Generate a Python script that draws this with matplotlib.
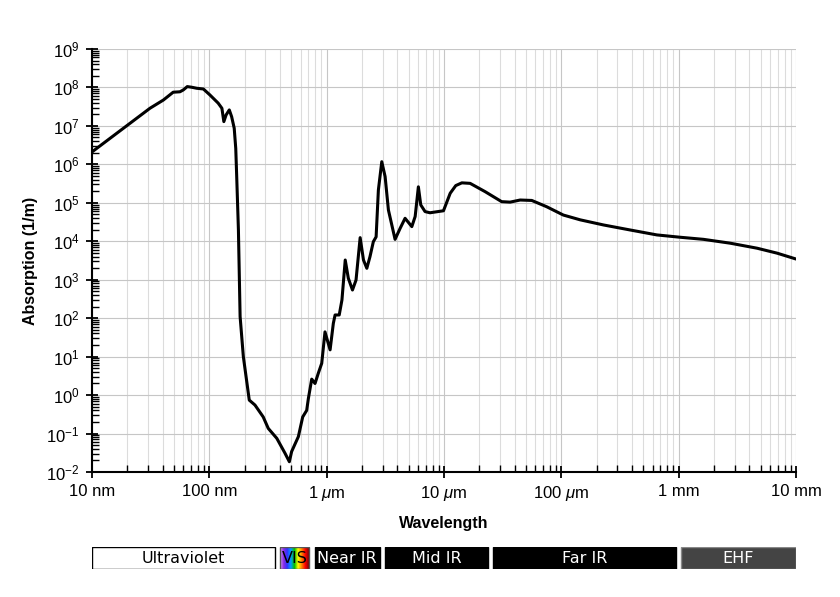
import matplotlib
matplotlib.use("Agg")
import matplotlib.pyplot as plt
import numpy as np
from matplotlib.colors import LinearSegmentedColormap
from matplotlib.ticker import FixedLocator, LogLocator, NullFormatter

plt.rcParams['font.family'] = ['Liberation Sans', 'DejaVu Sans']
plt.rcParams['mathtext.fontset'] = 'custom'
plt.rcParams['mathtext.rm'] = 'Liberation Sans'
plt.rcParams['mathtext.it'] = 'Liberation Sans:italic'

# wavelength in metres, absorption coefficient in 1/m
wavelength = np.array([
    10e-9, 31.2e-9, 40.6e-9, 49.2e-9, 56.2e-9, 60e-9, 64.9e-9, 70.8e-9,
    78.2e-9, 89e-9, 101e-9, 119e-9, 128e-9, 133e-9, 139e-9, 148e-9, 155e-9,
    163e-9, 168e-9, 171e-9, 177e-9, 183e-9, 195e-9, 219e-9, 245e-9, 288e-9,
    318e-9, 376e-9, 441e-9, 481e-9, 503e-9, 574e-9, 625e-9, 676e-9, 698e-9,
    746e-9, 796e-9, 849e-9, 908e-9, 968e-9, 1.07e-6, 1.14e-6, 1.18e-6,
    1.28e-6, 1.35e-6, 1.44e-6, 1.53e-6, 1.66e-6, 1.78e-6, 1.93e-6, 2.06e-6,
    2.2e-6, 2.34e-6, 2.5e-6, 2.64e-6, 2.76e-6, 2.95e-6, 3.15e-6, 3.36e-6,
    3.83e-6, 4.23e-6, 4.66e-6, 5.32e-6, 5.68e-6, 6.05e-6, 6.34e-6, 6.9e-6,
    7.6e-6, 9.9e-6, 11.3e-6, 12.6e-6, 14.2e-6, 16.7e-6, 22.4e-6, 31e-6,
    36.6e-6, 44.6e-6, 56e-6, 75e-6, 104e-6, 145e-6, 229e-6, 387e-6, 652e-6,
    1.03e-3, 1.63e-3, 2.75e-3, 4.65e-3, 6.9e-3, 10e-3])
absorption = np.array([
    2.1e6, 2.87e7, 4.7e7, 7.5e7, 7.7e7, 8.6e7, 1.05e8, 1.01e8,
    9.5e7, 9.1e7, 6.4e7, 3.9e7, 2.87e7, 1.29e7, 1.92e7, 2.6e7, 1.73e7,
    8.7e6, 2.6e6, 5.3e5, 2e4, 1.1e2, 10, 0.74, 0.55, 0.27,
    0.136, 0.075, 0.031, 0.0185, 0.034, 0.083, 0.27, 0.4, 0.8,
    2.6, 2.0, 3.7, 6.7, 44, 15, 73, 121,
    121, 297, 3250, 1090, 540, 980, 1.24e4, 3250,
    1980, 3960, 9730, 1.3e4, 2.15e5, 1.17e6, 4.8e5, 6.5e4,
    1.12e4, 2.17e4, 3.95e4, 2.4e4, 4.4e4, 2.6e5, 8.8e4, 5.9e4,
    5.5e4, 6.2e4, 1.77e5, 2.8e5, 3.3e5, 3.2e5, 1.95e5, 1.07e5,
    1.04e5, 1.18e5, 1.15e5, 7.9e4, 4.8e4, 3.6e4, 2.65e4, 1.96e4, 1.46e4,
    1.27e4, 1.12e4, 8.9e3, 6.6e3, 4.9e3, 3.45e3])

x_ticks = [1e-8, 1e-7, 1e-6, 1e-5, 1e-4, 1e-3, 1e-2]
x_labels = ['10 nm', '100 nm', r'1 $\mu$m', r'10 $\mu$m', r'100 $\mu$m', '1 mm', '10 mm']
y_ticks = [10.0 ** k for k in range(-2, 10)]
y_labels = [r'$10^{%d}$' % k for k in range(-2, 10)]

bands = ['Ultraviolet', 'VIS', 'Near IR', 'Mid IR', 'Far IR', 'EHF']
band_edges = [10e-9, 380e-9, 750e-9, 3e-6, 25e-6, 1e-3, 10e-3]
band_face = ['white', None, 'black', 'black', 'black', '#444444']
band_edge = ['black', '#555555', 'black', 'black', 'black', '#888888']
band_text = ['black', 'black', 'white', 'white', 'white', 'white']

fig = plt.figure(figsize=(8.4, 5.97), dpi=100)
ax = fig.add_axes([0.1095, 0.2094, 0.8381, 0.7086])

ax.grid(True, which='major', color='#c6c6c6', linewidth=0.8)
ax.grid(True, which='minor', axis='x', color='#dcdcdc', linewidth=0.8)
ax.set_axisbelow(True)
ax.loglog(wavelength, absorption, color='black', linewidth=2.2,
          solid_joinstyle='round', solid_capstyle='round')

ax.set_xlim(1e-8, 1e-2)
ax.set_ylim(1e-2, 1e9)
ax.xaxis.set_major_locator(FixedLocator(x_ticks))
ax.set_xticklabels(x_labels, fontsize=12)
ax.yaxis.set_major_locator(FixedLocator(y_ticks))
ax.set_yticklabels(y_labels, fontsize=12)
ax.xaxis.set_minor_locator(LogLocator(base=10, subs=np.arange(2, 10), numticks=20))
ax.yaxis.set_minor_locator(LogLocator(base=10, subs=np.arange(2, 10), numticks=20))
ax.xaxis.set_minor_formatter(NullFormatter())
ax.yaxis.set_minor_formatter(NullFormatter())
ax.tick_params(which='major', direction='inout', length=8, width=1.3, pad=5)
ax.tick_params(which='minor', direction='in', length=5, width=1)
for side in ['top', 'right']:
    ax.spines[side].set_visible(False)
for side in ['left', 'bottom']:
    ax.spines[side].set_linewidth(1.5)

ax.set_xlabel('Wavelength', fontsize=11.5, fontweight='bold', labelpad=9)
ax.set_ylabel('Absorption (1/m)', fontsize=11.5, fontweight='bold', labelpad=6)

# spectrum band under the chart
bx = fig.add_axes([0.1095, 0.0469, 0.8381, 0.0369])
bx.set_xscale('log')
bx.set_xlim(1e-8, 1e-2)
bx.set_ylim(0, 1)
bx.axis('off')
gap = 0.022
rainbow = LinearSegmentedColormap.from_list(
    'vis', ['#d9a0ff', '#8a2be2', '#3030ff', '#00a0ff', '#00c000',
            '#ffff00', '#ff8000', '#ff0000', '#7a0000'])
for i, name in enumerate(bands):
    lo = np.log10(band_edges[i]) + (gap if i > 0 else 0.004)
    hi = np.log10(band_edges[i + 1]) - (gap if i < len(bands) - 1 else 0.004)
    x0, x1 = 10 ** lo, 10 ** hi
    if band_face[i] is None:
        xs = np.logspace(lo, hi, 60)
        bx.pcolormesh(xs, [0, 1], np.linspace(0, 1, 59)[None, :],
                      cmap=rainbow, shading='flat')
        bx.add_patch(plt.Rectangle((x0, 0), x1 - x0, 1, fill=False,
                                   edgecolor=band_edge[i], linewidth=1))
    else:
        bx.add_patch(plt.Rectangle((x0, 0), x1 - x0, 1,
                                   facecolor=band_face[i],
                                   edgecolor=band_edge[i], linewidth=1))
    bx.text(10 ** ((lo + hi) / 2), 0.48, name, ha='center', va='center',
            fontsize=11.5, color=band_text[i], family='DejaVu Sans')

fig.savefig('out.png', dpi=100)
